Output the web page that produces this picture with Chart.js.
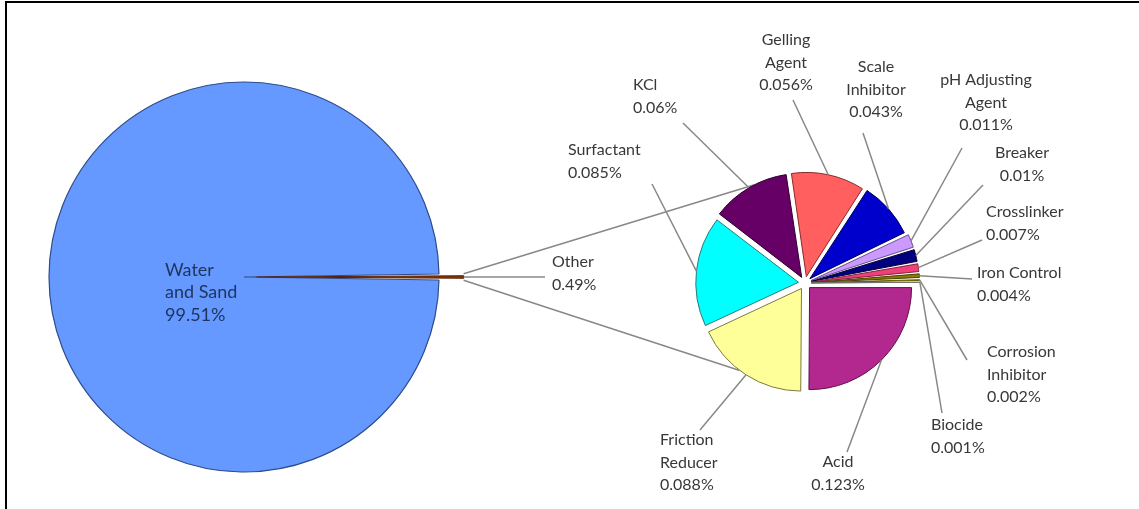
<!DOCTYPE html>
<html><head><meta charset="utf-8">
<script src="https://cdn.jsdelivr.net/npm/chart.js@4.4.1/dist/chart.umd.min.js"></script>
<style>
html,body{margin:0;padding:0;background:#fff;}
#wrap{position:relative;width:1139px;height:509px;overflow:hidden;background:#fff;}
#wrap canvas{position:absolute;left:0;top:0;}
#frame{position:absolute;left:5px;top:1px;right:-10px;bottom:-10px;border-top:2px solid #000;border-left:2px solid #000;pointer-events:none;}
</style></head><body>
<div id="wrap"><canvas id="c1" width="1139" height="509"></canvas><canvas id="c2" width="1139" height="509"></canvas><div id="frame"></div></div>
<script>
// ---------- data ----------
const mainCategories = ['Water and Sand', 'Other'];
const mainValues = [99.51, 0.49];
const mainLabelLines = [['Water', 'and Sand'], ['Other']];

const subCategories = ['Acid', 'Friction Reducer', 'Surfactant', 'KCl', 'Gelling Agent', 'Scale Inhibitor',
  'pH Adjusting Agent', 'Breaker', 'Crosslinker', 'Iron Control', 'Corrosion Inhibitor', 'Biocide'];
const subValues = [0.123, 0.088, 0.085, 0.06, 0.056, 0.043, 0.011, 0.01, 0.007, 0.004, 0.002, 0.001];
const subLabelLines = [['Acid'], ['Friction', 'Reducer'], ['Surfactant'], ['KCl'], ['Gelling', 'Agent'],
  ['Scale', 'Inhibitor'], ['pH Adjusting', 'Agent'], ['Breaker'], ['Crosslinker'], ['Iron Control'],
  ['Corrosion', 'Inhibitor'], ['Biocide']];

// ---------- styles / layout ----------
const mainColors = ['#6699FF', '#8B3A0F'];
const mainBorders = ['#2E4C8C', '#5A2000'];
const subColors = ['#B3288E', '#FFFF99', '#00FFFF', '#660066', '#FF5F5F', '#0000CC',
  '#CC99FF', '#000080', '#F0407A', '#8B7D00', '#D4C000', '#C8B8A0'];
const subBorders = ['#5E1048', '#7A7A40', '#2A7A7A', '#2A002A', '#8A2A2A', '#00005A',
  '#6A5090', '#000030', '#802040', '#4A4000', '#6A6000', '#707070'];

const FONT = '16px Lato';
const MAIN_FONT = '18px Lato';
const LINE_H = 22.5;
const TEXT_COLOR = '#383838';
const LEADER_COLOR = '#888888';

const MAIN = { cx: 244, cy: 277, r: 195, otherOffset: 50, W: 1139, H: 509 };
const SUB = { cx: 805, cy: 283, r: 102, offset: 26 };
// label anchor (x, first-line y), alignment, and leader start point
const mainLabelLayout = [
  { x: 165, y: 270, align: 'left', color: '#1F3560', font: MAIN_FONT },
  { x: 552, y: 262, align: 'left', color: TEXT_COLOR, lx: 545, ly: 277 }
];
const subLabelLayout = [
  { x: 838, y: 462, align: 'center', lx: 847, ly: 452 },
  { x: 660, y: 440, align: 'left', lx: 700, ly: 430 },
  { x: 568, y: 150, align: 'left', lx: 652, ly: 184 },
  { x: 633, y: 85, align: 'left', lx: 683, ly: 123 },
  { x: 786, y: 40, align: 'center', lx: 793, ly: 100 },
  { x: 876, y: 67, align: 'center', lx: 863, ly: 133 },
  { x: 986, y: 80, align: 'center', lx: 962, ly: 148 },
  { x: 1022, y: 153, align: 'center', lx: 983, ly: 185 },
  { x: 986, y: 212, align: 'left', lx: 982, ly: 240 },
  { x: 977, y: 273, align: 'left', lx: 972, ly: 279 },
  { x: 987, y: 352, align: 'left', lx: 967, ly: 360 },
  { x: 931, y: 425, align: 'left', lx: 942, ly: 413 }
];
const CONNECT_UP_DEG = 243, CONNECT_DOWN_DEG = 127;

// ---------- helpers ----------
function arcGeom(arc) {
  const p = arc.getProps(['x', 'y', 'startAngle', 'endAngle', 'outerRadius', 'circumference'], true);
  const off = (arc.options.offset || 0) / 4;
  const fix = 1 - Math.sin(Math.min(Math.PI, p.circumference || 0));
  const R = p.outerRadius + off * fix;
  const mid = (p.startAngle + p.endAngle) / 2;
  const ox = p.x + Math.cos(mid) * off, oy = p.y + Math.sin(mid) * off;
  return { ox, oy, R, mid, start: p.startAngle, end: p.endAngle,
    at: (a, rr) => [ox + Math.cos(a) * (rr === undefined ? R : rr), oy + Math.sin(a) * (rr === undefined ? R : rr)] };
}
function line(ctx, a, b, color, w) {
  ctx.save(); ctx.strokeStyle = color; ctx.lineWidth = w; ctx.beginPath();
  ctx.moveTo(a[0], a[1]); ctx.lineTo(b[0], b[1]); ctx.stroke(); ctx.restore();
}
function drawText(ctx, lines, lay, color) {
  ctx.save(); ctx.font = lay.font || FONT; ctx.fillStyle = color; ctx.textAlign = lay.align; ctx.textBaseline = 'middle';
  lines.forEach((t, i) => ctx.fillText(t, lay.x, lay.y + i * LINE_H));
  ctx.restore();
}
const pct = v => String(v) + '%';

// ---------- main pie ----------
const otherShareDeg = mainValues[1] / mainValues.reduce((a, b) => a + b, 0) * 360;
const mainLabelPlugin = {
  id: 'mainLabels',
  afterDatasetsDraw(chart) {
    const ctx = chart.ctx;
    const meta = chart.getDatasetMeta(0);
    const g = arcGeom(meta.data[1]);
    const tip = g.at(g.mid);
    const lay = mainLabelLayout[1];
    line(ctx, tip, [lay.lx, lay.ly], LEADER_COLOR, 1.5);
    drawText(ctx, mainLabelLines[0].concat([pct(mainValues[0])]), mainLabelLayout[0], mainLabelLayout[0].color);
    drawText(ctx, mainLabelLines[1].concat([pct(mainValues[1])]), lay, lay.color);
  }
};
const chart1 = new Chart(document.getElementById('c1'), {
  type: 'pie',
  data: { labels: mainCategories, datasets: [{
    data: mainValues, backgroundColor: mainColors, borderColor: mainBorders, borderWidth: 1.2,
    offset: [0, MAIN.otherOffset], radius: MAIN.r, rotation: 90 + otherShareDeg / 2
  }] },
  options: {
    responsive: false, animation: false, events: [],
    layout: { padding: { left: 0, right: MAIN.W - 2 * MAIN.cx, top: 2 * MAIN.cy - MAIN.H, bottom: 0 } },
    plugins: { legend: { display: false }, tooltip: { enabled: false } }
  },
  plugins: [mainLabelPlugin]
});

// ---------- secondary pie ----------
const subPlugin = {
  id: 'subLabels',
  beforeDatasetsDraw(chart) {
    const ctx = chart.ctx;
    const m = chart1.getDatasetMeta(0);
    const og = arcGeom(m.data[1]);
    const up = og.at(og.start), down = og.at(og.end);
    const meta = chart.getDatasetMeta(0);
    const a = CONNECT_UP_DEG * Math.PI / 180, b = CONNECT_DOWN_DEG * Math.PI / 180;
    const gu = arcGeom(meta.data[3]), gd = arcGeom(meta.data[1]);
    line(ctx, up, gu.at(a), LEADER_COLOR, 1.5);
    line(ctx, down, gd.at(b), LEADER_COLOR, 1.5);
  },
  afterDatasetsDraw(chart) {
    const ctx = chart.ctx;
    const meta = chart.getDatasetMeta(0);
    meta.data.forEach((arc, i) => {
      const g = arcGeom(arc);
      const lay = subLabelLayout[i];
      line(ctx, [lay.lx, lay.ly], g.at(g.mid), LEADER_COLOR, 1.5);
      drawText(ctx, subLabelLines[i].concat([pct(subValues[i])]), lay, TEXT_COLOR);
    });
  }
};
const chart2 = new Chart(document.getElementById('c2'), {
  type: 'pie',
  data: { labels: subCategories, datasets: [{
    data: subValues, backgroundColor: subColors, borderColor: subBorders, borderWidth: 1,
    offset: SUB.offset, radius: SUB.r, rotation: 90
  }] },
  options: {
    responsive: false, animation: false, events: [],
    layout: { padding: { left: 2 * SUB.cx - MAIN.W, right: 0, top: 2 * SUB.cy - MAIN.H, bottom: 0 } },
    plugins: { legend: { display: false }, tooltip: { enabled: false } }
  },
  plugins: [subPlugin]
});
</script></body></html>
